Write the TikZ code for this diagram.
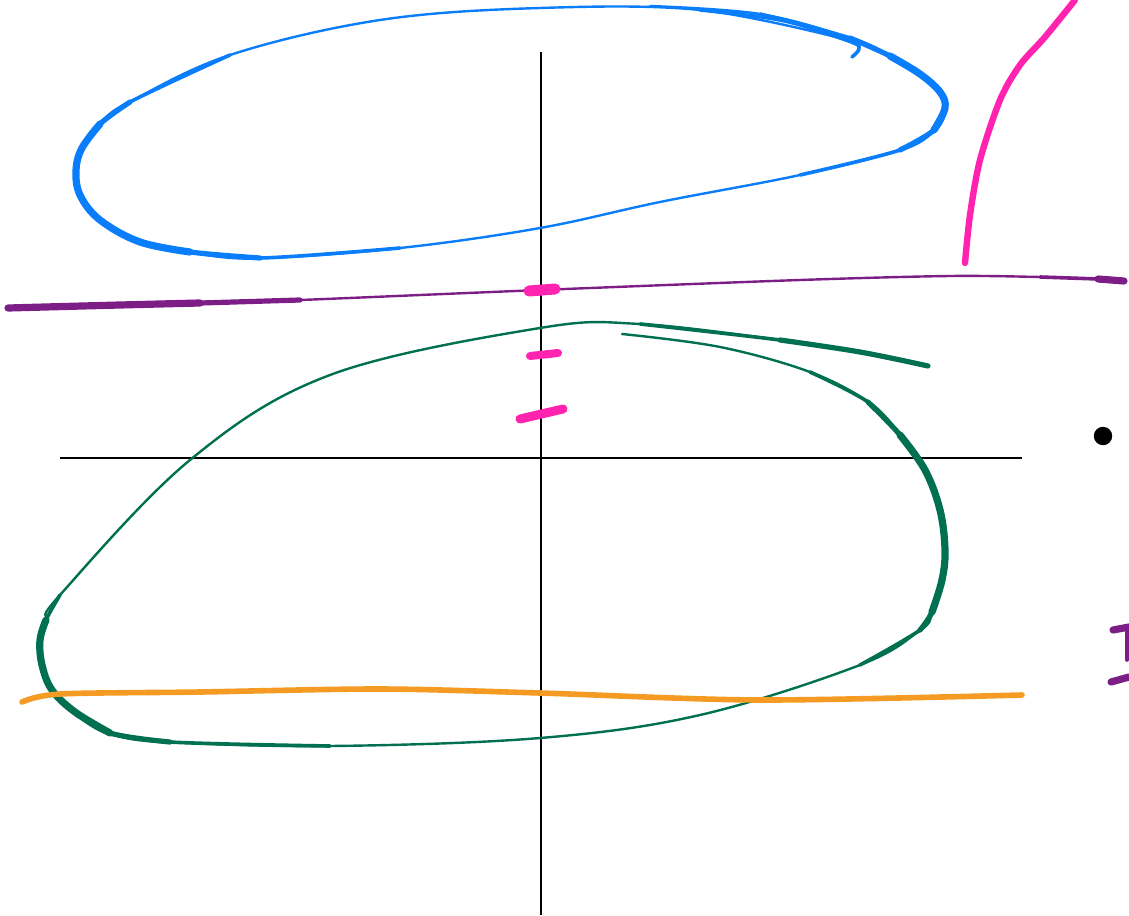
\documentclass[tikz,border=0pt]{standalone}
\usepackage{tikz}

\definecolor{inkblue}{RGB}{10,125,250}
\definecolor{inkgreen}{RGB}{0,112,80}
\definecolor{inkpurple}{RGB}{125,30,135}
\definecolor{inkpink}{RGB}{255,35,175}
\definecolor{inkorange}{RGB}{245,155,35}

\begin{document}
\begin{tikzpicture}[
  x=0.5pt, y=-0.5pt,
  axis/.style={draw=black, line width=1.2pt},
  pen/.style={line cap=round, line join=round},
  thin pen/.style={pen, line width=1.2pt},
  mid pen/.style={pen, line width=1.8pt},
  wide pen/.style={pen, line width=2.6pt},
  fat pen/.style={pen, line width=3.6pt}
]
\useasboundingbox (0,0) rectangle (1129,915);

% axes
\draw[axis] (541,52) -- (541,915);
\draw[axis] (60,458) -- (1022,458);

% blue loop
\draw[thin pen, inkblue] plot[smooth, tension=0.6] coordinates {(650,6) (760,14) (850,38) (890,56) (920,74) (940,92) (945,108) (934,130) (900,150) (800,175) (660,202) (540,228) (400,248) (260,258) (190,252) (140,242) (100,220) (80,195) (76,170) (82,148) (100,124) (130,102) (230,55) (380,20) (540,8) (700,10) (840,38)};
\draw[mid pen, inkblue] plot[smooth, tension=0.6] coordinates {(760,14) (850,38) (890,56) (920,74) (940,92) (945,108) (934,130) (900,150) (800,175)};
\draw[wide pen, inkblue] plot[smooth, tension=0.6] coordinates {(850,38) (890,56) (920,74) (940,92) (945,108) (934,130) (900,150)};
\draw[fat pen, inkblue] plot[smooth, tension=0.6] coordinates {(890,56) (920,74) (940,92) (945,108) (934,130)};
\draw[mid pen, inkblue] plot[smooth, tension=0.6] coordinates {(400,248) (260,258) (190,252) (140,242) (100,220) (80,195) (76,170) (82,148) (100,124) (130,102) (230,55)};
\draw[wide pen, inkblue] plot[smooth, tension=0.6] coordinates {(260,258) (190,252) (140,242) (100,220) (80,195) (76,170) (82,148) (100,124) (130,102)};
\draw[fat pen, inkblue] plot[smooth, tension=0.6] coordinates {(190,252) (140,242) (100,220) (80,195) (76,170) (82,148) (100,124)};
\draw[mid pen, inkblue] plot[smooth, tension=0.6] coordinates {(700,10) (780,20) (840,38) (858,45)};
\draw[mid pen, inkblue] (858,42) .. controls (860,50) .. (852,57);

% purple line
\draw[thin pen, inkpurple] plot[smooth] coordinates {(8,308) (120,305) (200,303) (300,300) (540,290) (800,280) (950,276) (1040,277) (1098,279) (1125,280)};
\draw[wide pen, inkpurple] plot[smooth] coordinates {(8,308) (120,305) (200,303) (300,300)};
\draw[fat pen, inkpurple] plot[smooth] coordinates {(8,308) (120,305) (200,303)};
\draw[mid pen, inkpurple] plot[smooth] coordinates {(1040,277) (1098,279) (1125,280)};
\draw[fat pen, inkpurple] (1098,279) -- (1124,281);

% pink marks
\draw[line width=5.5pt, line cap=round, inkpink] (529,291) -- (555,289);
\draw[line width=4pt, line cap=round, inkpink] (530,356) -- (558,353);
\draw[line width=4.5pt, line cap=round, inkpink] (520,419) -- (563,409);
\draw[pen, line width=3.2pt, inkpink] plot[smooth] coordinates {(965,263) (970,215) (980,160) (1000,100) (1020,65) (1045,37) (1075,0)};

% green loop
\draw[thin pen, inkgreen] plot[smooth, tension=0.6] coordinates {(622,334) (720,347) (810,372) (868,402) (900,435) (925,470) (940,510) (945,550) (942,580) (932,612) (920,630) (860,665) (700,715) (540,738) (330,746) (170,742) (110,733) (75,712) (52,690) (42,665) (40,640) (46,620) (60,595) (190,460) (330,375) (540,328) (640,324) (780,340) (860,352) (928,366)};
\draw[mid pen, inkgreen] plot[smooth, tension=0.6] coordinates {(810,372) (868,402) (900,435) (925,470) (940,510) (945,550) (942,580) (932,612) (920,630) (860,665)};
\draw[wide pen, inkgreen] plot[smooth, tension=0.6] coordinates {(868,402) (900,435) (925,470) (940,510) (945,550) (942,580) (932,612) (920,630)};
\draw[fat pen, inkgreen] plot[smooth, tension=0.6] coordinates {(900,435) (925,470) (940,510) (945,550) (942,580) (932,612)};
\draw[mid pen, inkgreen] plot[smooth, tension=0.6] coordinates {(330,746) (170,742) (110,733) (75,712) (52,690) (42,665) (40,640) (46,620) (60,595)};
\draw[wide pen, inkgreen] plot[smooth, tension=0.6] coordinates {(170,742) (110,733) (75,712) (52,690) (42,665) (40,640) (46,620)};
\draw[fat pen, inkgreen] plot[smooth, tension=0.6] coordinates {(110,733) (75,712) (52,690) (42,665) (40,640) (46,620)};
\draw[mid pen, inkgreen] plot[smooth, tension=0.6] coordinates {(640,324) (780,340) (860,352) (928,366)};
\draw[wide pen, inkgreen] plot[smooth, tension=0.6] coordinates {(780,340) (860,352) (928,366)};

% orange line
\draw[pen, line width=2.8pt, inkorange] plot[smooth] coordinates {(22,702) (60,694) (200,692) (380,689) (540,693) (760,700) (1022,695)};

% dot and right edge marks
\fill (1103,436) circle (4.6pt);
\draw[fat pen, inkpurple] (1113,630) -- (1129,627);
\draw[fat pen, inkpurple] (1111,682) -- (1129,677);
\draw[mid pen, inkpurple] (1127,628) -- (1127,660);
\end{tikzpicture}
\end{document}
